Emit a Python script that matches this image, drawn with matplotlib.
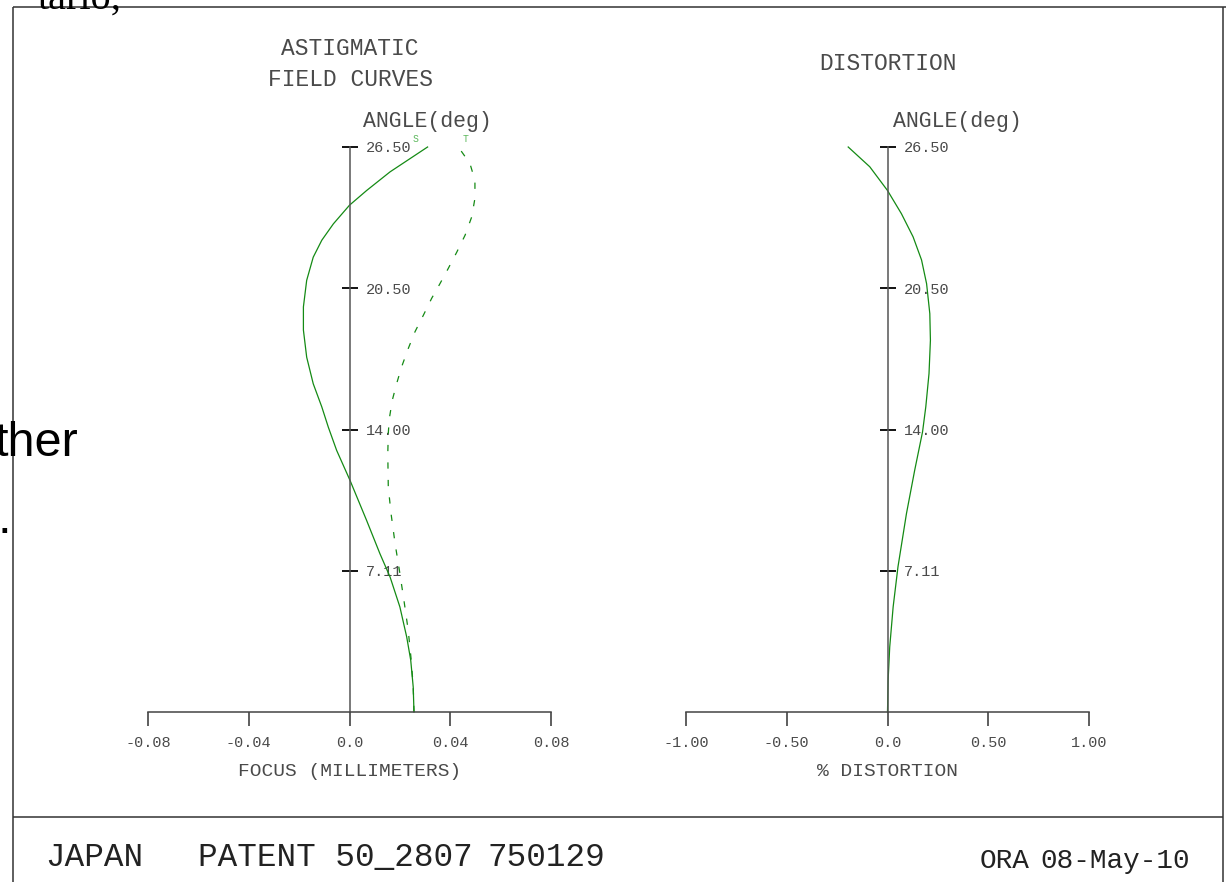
import matplotlib
matplotlib.use("Agg")
import matplotlib.pyplot as plt
from matplotlib.ticker import FixedLocator, FixedFormatter

W, H = 1226, 882
MONO = "Liberation Mono"
INK = "#4a4a4a"
CURVE = "#148a14"

# relative field height (0 = axis, 1 = full field) and the angle labels for it
angle_ticks = [0.25, 0.50, 0.75, 1.00]
angle_labels = ["7.11", "14.00", "20.50", "26.50"]

# sagittal focus shift (mm)
s_field = [0.0, 0.044, 0.092, 0.133, 0.186, 0.239, 0.280, 0.339, 0.410, 0.463,
           0.504, 0.540, 0.581, 0.628, 0.676, 0.717, 0.764, 0.805, 0.835, 0.864,
           0.897, 0.923, 0.956, 1.0]
s_focus = [0.0256, 0.0253, 0.0243, 0.0227, 0.0200, 0.0161, 0.0121, 0.0068, 0.0002, -0.0051,
           -0.0084, -0.0110, -0.0144, -0.0170, -0.0183, -0.0183, -0.0170, -0.0144, -0.0110, -0.0064,
           0.0, 0.0068, 0.0161, 0.0310]

# tangential focus shift (mm)
t_field = [0.0, 0.044, 0.092, 0.145, 0.198, 0.251, 0.298, 0.351, 0.398, 0.457,
           0.493, 0.519, 0.552, 0.581, 0.611, 0.643, 0.673, 0.702, 0.732, 0.758,
           0.785, 0.814, 0.844, 0.876, 0.909, 0.941, 0.971, 1.0]
t_focus = [0.0256, 0.0253, 0.0245, 0.0233, 0.0216, 0.0198, 0.0181, 0.0165, 0.0154, 0.0152,
           0.0154, 0.0158, 0.0170, 0.0187, 0.0207, 0.0233, 0.0260, 0.0293, 0.0326, 0.0359,
           0.0392, 0.0426, 0.0459, 0.0485, 0.0498, 0.0498, 0.0478, 0.0432]

# percent distortion
d_field = [0.0, 0.056, 0.115, 0.186, 0.257, 0.351, 0.428, 0.496, 0.540, 0.599,
           0.658, 0.705, 0.758, 0.800, 0.841, 0.882, 0.923, 0.965, 1.0]
d_pct = [0.0, 0.003, 0.011, 0.028, 0.052, 0.094, 0.135, 0.174, 0.190, 0.206,
         0.213, 0.210, 0.194, 0.169, 0.127, 0.069, 0.0, -0.088, -0.195]

focus_ticks = [-0.08, -0.04, 0.0, 0.04, 0.08]
focus_labels = ["-0.08", "-0.04", "0.0", "0.04", "0.08"]
dist_ticks = [-1.0, -0.5, 0.0, 0.5, 1.0]
dist_labels = ["-1.00", "-0.50", "0.0", "0.50", "1.00"]

fig = plt.figure(figsize=(W / 100, H / 100), dpi=100, facecolor="white")

# pixel-space layer for the frame, headings and footer
bg = fig.add_axes([0, 0, 1, 1])
bg.set_xlim(0, W)
bg.set_ylim(H, 0)
bg.axis("off")
frame = dict(color="#333333", lw=1.1, solid_capstyle="butt")
bg.plot([13, 13], [7, H], **frame)
bg.plot([13, W], [7, 7], **frame)
bg.plot([1223, 1223], [7, H], **frame)
bg.plot([13, 1223], [817, 817], **frame)

bg.text(350, 64, "ASTIGMATIC\nFIELD CURVES", family=MONO, fontsize=16.5, color=INK,
        ha="center", va="center", linespacing=1.45)
bg.text(888, 64, "DISTORTION", family=MONO, fontsize=16.5, color=INK, ha="center", va="center")
bg.text(363, 121, "ANGLE(deg)", family=MONO, fontsize=15.5, color=INK, ha="left", va="center")
bg.text(893, 121, "ANGLE(deg)", family=MONO, fontsize=15.5, color=INK, ha="left", va="center")

foot = dict(family=MONO, color="#222222", ha="left", va="baseline")
bg.text(45, 866, "JAPAN", fontsize=23.5, **foot)
bg.text(198, 866, "PATENT 50_2807", fontsize=23.5, **foot)
bg.text(487, 866, "750129", fontsize=23.5, **foot)
bg.text(980, 868, "ORA", fontsize=20, **foot)
bg.text(1040, 868, "08-May-10", fontsize=20, **foot)

# stray overlapping text fragments
bg.text(38, 9, "tario,", family="Liberation Serif", fontsize=29, color="black",
        ha="left", va="baseline")
bg.text(-6, 456, "ther", family="Liberation Sans", fontsize=35, color="black",
        ha="left", va="baseline")
bg.text(-2, 533, ".", family="Liberation Sans", fontsize=35, color="black",
        ha="left", va="baseline")


def make_axes(x0, x1, lim, ticks, labels, xlabel):
    ax = fig.add_axes([x0 / W, (H - 712) / H, (x1 - x0) / W, 565 / H])
    ax.patch.set_alpha(0)
    ax.set_xlim(*lim)
    ax.set_ylim(0, 1)
    for side in ("top", "left"):
        ax.spines[side].set_visible(False)
    ax.spines["bottom"].set_color("#444444")
    ax.spines["bottom"].set_linewidth(1.1)
    ax.spines["right"].set_position(("data", 0))
    ax.spines["right"].set_color("#555555")
    ax.spines["right"].set_linewidth(1.1)

    ax.xaxis.set_major_locator(FixedLocator(ticks))
    ax.xaxis.set_major_formatter(FixedFormatter(labels))
    ax.tick_params(axis="x", direction="out", length=10, width=1.1, color="#333333",
                   pad=7, labelsize=11, labelcolor=INK)
    ax.yaxis.tick_right()
    ax.yaxis.set_major_locator(FixedLocator(angle_ticks))
    ax.yaxis.set_major_formatter(FixedFormatter(angle_labels))
    ax.tick_params(axis="y", direction="inout", length=11, width=1.3, color="black",
                   pad=6, labelsize=11, labelcolor=INK)
    for lab in ax.get_xticklabels() + ax.get_yticklabels():
        lab.set_family(MONO)
    ax.set_xlabel(xlabel, family=MONO, fontsize=14, color=INK, labelpad=10)
    return ax


ax_f = make_axes(148, 551, (-0.08, 0.08), focus_ticks, focus_labels, "FOCUS (MILLIMETERS)")
ax_f.plot(s_focus, s_field, color=CURVE, lw=0.9, clip_on=False)
ax_f.plot(t_focus, t_field, color=CURVE, lw=0.9, ls=(0, (5, 9)), clip_on=False)
ax_f.text(0.0252, 1.006, "S", family=MONO, fontsize=7, color="#5cb85c",
          ha="left", va="bottom")
ax_f.text(0.0459, 1.006, "T", family=MONO, fontsize=7, color="#5cb85c",
          ha="center", va="bottom")

ax_d = make_axes(686, 1089, (-1.0, 1.0), dist_ticks, dist_labels, "% DISTORTION")
ax_d.plot(d_pct, d_field, color=CURVE, lw=0.9, clip_on=False)

fig.savefig("out.png", dpi=100, facecolor="white")
